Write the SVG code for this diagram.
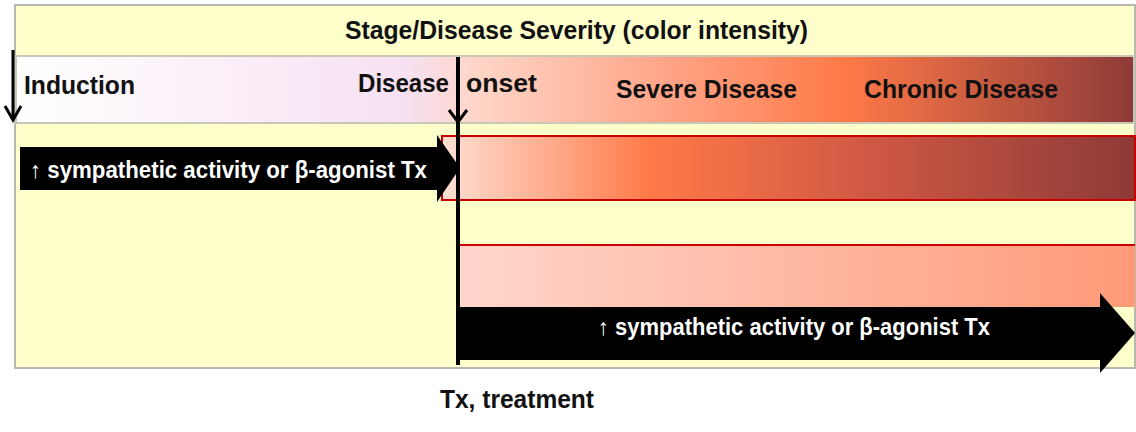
<svg xmlns="http://www.w3.org/2000/svg" width="1136" height="432" viewBox="0 0 1136 432">
<style>
text{font-family:"Liberation Sans",Arial,sans-serif;font-weight:bold;}
.lbl{font-size:25px;fill:#111;}
.wt{font-size:23px;fill:#fff;}
</style>
<defs>
<linearGradient id="stage" x1="15" x2="1135" y1="0" y2="0" gradientUnits="userSpaceOnUse">
<stop offset="0" stop-color="#ffffff"/>
<stop offset="0.35" stop-color="#f7e0f2"/>
<stop offset="0.41" stop-color="#ffd6c8"/>
<stop offset="0.6" stop-color="#ff9f80"/>
<stop offset="0.74" stop-color="#ff7a48"/>
<stop offset="1" stop-color="#8e3a38"/>
</linearGradient>
<linearGradient id="sev" x1="442" x2="1135" y1="0" y2="0" gradientUnits="userSpaceOnUse">
<stop offset="0" stop-color="#ffe0d4"/>
<stop offset="0.3" stop-color="#ff7a48"/>
<stop offset="0.6" stop-color="#d25a44"/>
<stop offset="1" stop-color="#8e3a38"/>
</linearGradient>
<linearGradient id="mild" x1="460" x2="1135" y1="0" y2="0" gradientUnits="userSpaceOnUse">
<stop offset="0" stop-color="#ffd6cc"/>
<stop offset="1" stop-color="#ff9a78"/>
</linearGradient>
</defs>
<g id="frame">
<rect x="15" y="5" width="1120" height="363" fill="#ffffcc" stroke="#b8b8b0" stroke-width="2"/>
<rect x="16" y="56" width="1118" height="67" fill="url(#stage)" stroke="#c8c8b8" stroke-width="2"/>
</g>
<g id="title"><text x="345" y="39" class="lbl" textLength="463" lengthAdjust="spacingAndGlyphs">Stage/Disease Severity (color intensity)</text></g>
<g id="stages">
<text x="24" y="94" class="lbl" textLength="111" lengthAdjust="spacingAndGlyphs">Induction</text>
<text x="358" y="92" class="lbl" textLength="91" lengthAdjust="spacingAndGlyphs">Disease</text>
<text x="466" y="92" class="lbl" textLength="71" lengthAdjust="spacingAndGlyphs">onset</text>
<text x="616" y="98" class="lbl" textLength="181" lengthAdjust="spacingAndGlyphs">Severe Disease</text>
<text x="864" y="98" class="lbl" textLength="194" lengthAdjust="spacingAndGlyphs">Chronic Disease</text>
</g>
<g id="severe"><rect x="442" y="136" width="693" height="64" fill="url(#sev)" stroke="#cc0000" stroke-width="2"/></g>
<g id="mildbox"><rect x="460" y="245" width="675" height="62" fill="url(#mild)"/><polyline points="460,245 1135,245" stroke="#cc0000" stroke-width="2" fill="none"/></g>
<g id="connectors">
<polygon points="20,147 437,147 437,135 460,168 437,202 437,190 20,190" fill="#000"/>
<polygon points="460,307 1100,307 1100,293 1135,333 1100,373 1100,360 460,360" fill="#000"/>
<line x1="458" y1="57" x2="458" y2="365" stroke="#000" stroke-width="4"/>
<polyline points="449,110 458,122 467,110" fill="none" stroke="#000" stroke-width="3"/>
<line x1="13" y1="50" x2="13" y2="118" stroke="#000" stroke-width="3"/>
<polyline points="5,106 13,120 21,106" fill="none" stroke="#000" stroke-width="3"/>
</g>
<g id="arrowlabels">
<text x="30" y="178" class="wt" textLength="397" lengthAdjust="spacingAndGlyphs"><tspan font-weight="normal">↑</tspan> sympathetic activity or β-agonist Tx</text>
<text x="598" y="335" class="wt" textLength="392" lengthAdjust="spacingAndGlyphs"><tspan font-weight="normal">↑</tspan> sympathetic activity or β-agonist Tx</text>
</g>
<g id="foot"><text x="440" y="408" class="lbl" textLength="154" lengthAdjust="spacingAndGlyphs">Tx, treatment</text></g>
</svg>
